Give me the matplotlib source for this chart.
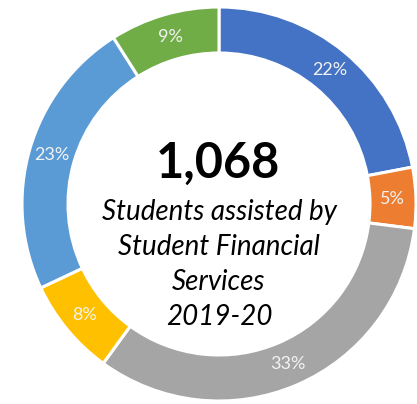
import matplotlib
matplotlib.use("Agg")
import matplotlib.pyplot as plt

# slices clockwise from 12 o'clock
shares = [22, 5, 33, 8, 23, 9]
colors = ["#4472C4", "#ED7D31", "#A5A5A5", "#FFC000", "#5B9BD5", "#70AD47"]
total_students = "1,068"
caption_lines = ["Students assisted by", "Student Financial", "Services", "2019-20"]

plt.rcParams["font.family"] = ["Lato", "DejaVu Sans"]

fig = plt.figure(figsize=(4.17, 4.04), dpi=100)
ax = fig.add_axes([0, 0, 1, 1])

cx, cy = 219, 404 - 204
R = 197
ring = 46

wedges, texts, autotexts = ax.pie(
    shares, colors=colors, startangle=90, counterclock=False,
    center=(cx, cy), radius=R, frame=True,
    autopct="%.0f%%", pctdistance=(R - ring / 2) / R,
    wedgeprops=dict(width=ring, edgecolor="white", linewidth=2.2),
    textprops=dict(color="#F2F2F2", fontsize=13),
)
ax.set_xlim(0, 417)
ax.set_ylim(0, 404)
ax.axis("off")

ax.text(cx - 1, 404 - 163, total_students, ha="center", va="center",
        fontsize=35, fontweight="bold", color="black")
for i, line in enumerate(caption_lines):
    ax.text(cx, 404 - (212 + 35 * i), line, ha="center", va="center",
            fontsize=20, style="italic", color="black")

fig.savefig("out.png", dpi=100)
